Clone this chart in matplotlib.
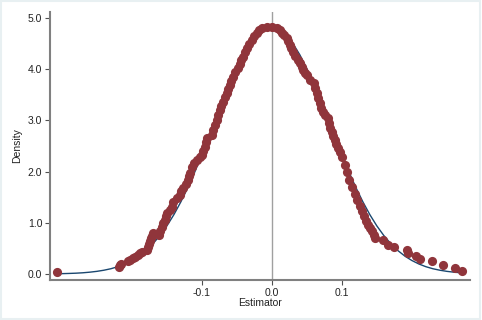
import matplotlib
matplotlib.use("Agg")
import matplotlib.pyplot as plt
from matplotlib.patches import Rectangle

# Normal density overlay
line_x = [-0.31, -0.30, -0.29, -0.28, -0.27, -0.26, -0.25, -0.24, -0.23, -0.22,
          -0.21, -0.20, -0.19, -0.18, -0.17, -0.16, -0.15, -0.14, -0.13, -0.12,
          -0.11, -0.10, -0.09, -0.08, -0.07, -0.06, -0.05, -0.04, -0.03, -0.02,
          -0.01, 0.00, 0.01, 0.02, 0.03, 0.04, 0.05, 0.06, 0.07, 0.08,
          0.09, 0.10, 0.11, 0.12, 0.13, 0.14, 0.15, 0.16, 0.17, 0.18,
          0.19, 0.20, 0.21, 0.22, 0.23, 0.24, 0.25, 0.26, 0.27]
line_y = [0.005, 0.007, 0.011, 0.016, 0.024, 0.036, 0.052, 0.074, 0.103, 0.143,
          0.196, 0.264, 0.350, 0.458, 0.590, 0.750, 0.939, 1.159, 1.410, 1.690,
          1.997, 2.326, 2.670, 3.021, 3.368, 3.702, 4.009, 4.280, 4.503, 4.669,
          4.772, 4.807, 4.772, 4.669, 4.503, 4.280, 4.009, 3.702, 3.368, 3.021,
          2.670, 2.326, 1.997, 1.690, 1.410, 1.159, 0.939, 0.750, 0.590, 0.458,
          0.350, 0.264, 0.196, 0.143, 0.103, 0.074, 0.052, 0.036, 0.024]

# Kernel density estimates (dots)
dot_x = [-0.307, -0.219, -0.217, -0.216, -0.206, -0.203, -0.199, -0.196, -0.191, -0.189,
         -0.186, -0.179, -0.177, -0.176, -0.174, -0.173, -0.171, -0.170, -0.161, -0.160,
         -0.157, -0.156, -0.153, -0.151, -0.150, -0.146, -0.143, -0.141, -0.136, -0.131,
         -0.130, -0.127, -0.123, -0.120, -0.119, -0.117, -0.114, -0.111, -0.107, -0.103,
         -0.100, -0.099, -0.096, -0.094, -0.093, -0.086, -0.084, -0.081, -0.079, -0.077,
         -0.074, -0.073, -0.070, -0.067, -0.064, -0.063, -0.060, -0.059, -0.056, -0.053,
         -0.049, -0.046, -0.044, -0.041, -0.039, -0.036, -0.033, -0.029, -0.026, -0.021,
         -0.019, -0.014, -0.007, 0.000, 0.007, 0.011, 0.014, 0.017, 0.021, 0.023,
         0.026, 0.027, 0.030, 0.033, 0.037, 0.040, 0.043, 0.044, 0.047, 0.050,
         0.054, 0.060, 0.061, 0.064, 0.066, 0.069, 0.070, 0.073, 0.076, 0.080,
         0.081, 0.083, 0.086, 0.087, 0.090, 0.091, 0.094, 0.097, 0.100, 0.104,
         0.107, 0.110, 0.114, 0.119, 0.121, 0.126, 0.129, 0.131, 0.134, 0.137,
         0.140, 0.143, 0.146, 0.147, 0.159, 0.166, 0.174, 0.193, 0.194, 0.206,
         0.211, 0.229, 0.244, 0.261, 0.271]
dot_y = [0.04, 0.14, 0.18, 0.20, 0.25, 0.27, 0.31, 0.33, 0.37, 0.41,
         0.43, 0.47, 0.53, 0.59, 0.64, 0.70, 0.74, 0.80, 0.76, 0.84,
         0.92, 1.00, 1.05, 1.13, 1.19, 1.25, 1.31, 1.41, 1.48, 1.54,
         1.62, 1.68, 1.76, 1.84, 1.91, 1.97, 2.09, 2.17, 2.23, 2.29,
         2.32, 2.40, 2.48, 2.58, 2.66, 2.71, 2.81, 2.91, 3.01, 3.11,
         3.20, 3.28, 3.36, 3.46, 3.54, 3.61, 3.69, 3.77, 3.85, 3.95,
         4.02, 4.10, 4.18, 4.24, 4.34, 4.41, 4.49, 4.57, 4.65, 4.71,
         4.77, 4.80, 4.82, 4.82, 4.80, 4.77, 4.71, 4.67, 4.61, 4.55,
         4.47, 4.41, 4.34, 4.26, 4.18, 4.12, 4.04, 3.98, 3.93, 3.89,
         3.79, 3.73, 3.63, 3.54, 3.44, 3.34, 3.24, 3.16, 3.11, 3.05,
         2.95, 2.85, 2.77, 2.70, 2.62, 2.54, 2.46, 2.38, 2.29, 2.13,
         1.99, 1.84, 1.70, 1.56, 1.45, 1.33, 1.23, 1.13, 1.04, 0.96,
         0.90, 0.84, 0.76, 0.70, 0.66, 0.57, 0.53, 0.47, 0.41, 0.35,
         0.29, 0.25, 0.18, 0.12, 0.06]

x_ticks = [-0.1, 0.0, 0.1]
x_ticklabels = ["-0.1", "0.0", "0.1"]
y_ticks = [0, 1, 2, 3, 4, 5]
y_ticklabels = ["0.0", "1.0", "2.0", "3.0", "4.0", "5.0"]

plt.rcParams['font.family'] = ['Liberation Sans', 'DejaVu Sans']

fig = plt.figure(figsize=(4.82, 3.2), dpi=100)
fig.patch.set_facecolor('white')
# light outer frame like Stata's graph region
fig.patches.append(Rectangle((0.002, 0.003), 0.994, 0.994, transform=fig.transFigure,
                             fill=False, edgecolor='#e8f0f2', linewidth=1.5))

ax = fig.add_axes([0.1037, 0.125, 0.8713, 0.8375])
ax.axvline(0, color='#a0a0a0', linewidth=1.0, zorder=1)
ax.plot(line_x, line_y, color='#1a476f', linewidth=1.0, zorder=2)
ax.plot(dot_x, dot_y, linestyle='none', marker='o', markersize=6.6,
        color='#90353b', markeredgewidth=0, zorder=3)

ax.set_xlim(-0.317, 0.283)
ax.set_ylim(-0.117, 5.117)
ax.set_xticks(x_ticks)
ax.set_xticklabels(x_ticklabels)
ax.set_yticks(y_ticks)
ax.set_yticklabels(y_ticklabels)

for s in ['top', 'right']:
    ax.spines[s].set_visible(False)
for s in ['left', 'bottom']:
    ax.spines[s].set_color('#808080')
    ax.spines[s].set_linewidth(1.5)

ax.tick_params(axis='both', direction='out', length=3.5, width=0.8,
               color='#505050', labelsize=7.5, labelcolor='#222222', pad=2)
ax.set_xlabel("Estimator", fontsize=7.5, labelpad=0, color='#222222')
ax.set_ylabel("Density", fontsize=7.5, labelpad=4, color='#222222')

fig.savefig("out.png", dpi=100)
